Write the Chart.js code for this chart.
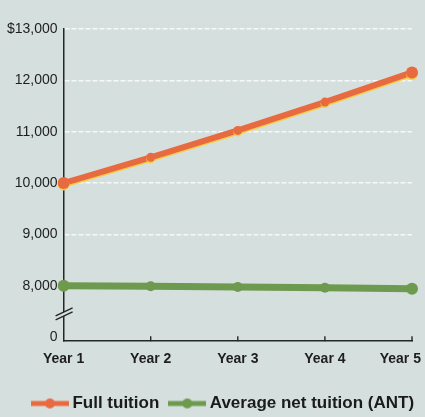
<!DOCTYPE html>
<html>
<head>
<meta charset="utf-8">
<script src="https://cdn.jsdelivr.net/npm/chart.js@4.4.1/dist/chart.umd.min.js"></script>
<style>
  html, body { margin: 0; padding: 0; background: #d5dfde; }
  #wrap { width: 425px; height: 417px; }
</style>
</head>
<body>
<div id="wrap"><canvas id="tuition"></canvas></div>
<script>
const years = ['Year 1', 'Year 2', 'Year 3', 'Year 4', 'Year 5'];
const fullTuition = [10000, 10500, 11025, 11576, 12155];
const netTuition = [8000, 7990, 7975, 7960, 7940];
// 7000 sits just above the axis break and is labelled "0"
const yTickValues = [7000, 8000, 9000, 10000, 11000, 12000, 13000];
const yTickLabels = ['0', '8,000', '9,000', '10,000', '11,000', '12,000', '$13,000'];

const bg = '#d5dfde';
const orange = '#e76a41';
const green = '#6d9a4e';

// little line-with-dot swatch for the legend
const swatch = (color) => {
  const c = document.createElement('canvas');
  c.width = 38; c.height = 14;
  const g = c.getContext('2d');
  g.strokeStyle = color; g.lineWidth = 5;
  g.beginPath(); g.moveTo(0, 7); g.lineTo(38, 7); g.stroke();
  g.fillStyle = color;
  g.beginPath(); g.arc(19, 7, 5, 0, Math.PI * 2); g.fill();
  return c;
};
const swatches = [swatch(orange), swatch(green)];

const extras = {
  id: 'extras',
  beforeDraw(chart) {
    const ctx = chart.ctx;
    ctx.save();
    ctx.fillStyle = bg;
    ctx.fillRect(0, 0, chart.width, chart.height);
    ctx.restore();
  },
  afterLayout(chart) {
    // legend in the original sits a bit right of centre and low down
    const lg = chart.legend;
    lg.left += 12; lg.right += 12;
    lg.top += 3; lg.bottom += 3;
  },
  beforeDatasetDraw(chart, args) {
    if (args.index === 0) {
      chart.ctx.save();
      chart.ctx.shadowColor = '#f3cd48';
      chart.ctx.shadowOffsetY = 1.5;
    }
  },
  afterDatasetDraw(chart, args) {
    if (args.index === 0) chart.ctx.restore();
  },
  afterDraw(chart) {
    const { ctx, scales: { x, y } } = chart;
    const base = y.getPixelForValue(y.min);
    ctx.save();
    ctx.strokeStyle = '#262626';
    ctx.lineWidth = 1.4;
    // upward tick marks on the x axis
    for (let i = 1; i < years.length; i++) {
      const px = x.getPixelForValue(i);
      ctx.beginPath(); ctx.moveTo(px, base); ctx.lineTo(px, base - 5); ctx.stroke();
    }
    // axis break
    const bx = x.left, by = y.getPixelForValue(7450);
    ctx.fillStyle = bg;
    ctx.beginPath();
    ctx.moveTo(bx - 8, by + 2); ctx.lineTo(bx + 9, by - 6);
    ctx.lineTo(bx + 9, by - 2); ctx.lineTo(bx - 8, by + 6);
    ctx.closePath(); ctx.fill();
    ctx.beginPath();
    ctx.moveTo(bx - 8, by + 2); ctx.lineTo(bx + 9, by - 6);
    ctx.moveTo(bx - 8, by + 6); ctx.lineTo(bx + 9, by - 2);
    ctx.stroke();
    ctx.restore();
  }
};

const endBig = (big, small) => (c) => (c.dataIndex === 0 || c.dataIndex === years.length - 1) ? big : small;

new Chart(document.getElementById('tuition'), {
  type: 'line',
  data: {
    labels: years,
    datasets: [
      {
        label: 'Full tuition',
        data: fullTuition,
        borderColor: orange,
        backgroundColor: orange,
        borderWidth: 6,
        pointRadius: endBig(6, 4.5),
        pointBorderWidth: 0,
        tension: 0
      },
      {
        label: 'Average net tuition (ANT)',
        data: netTuition,
        borderColor: green,
        backgroundColor: green,
        borderWidth: 7,
        pointRadius: endBig(6, 5),
        pointBorderWidth: 0,
        tension: 0
      }
    ]
  },
  options: {
    responsive: true,
    maintainAspectRatio: false,
    animation: false,
    layout: { padding: { top: 29, left: 1, right: 0, bottom: -2 } },
    font: { family: '"Liberation Sans", Arial, sans-serif' },
    plugins: {
      tooltip: { enabled: false },
      legend: {
        position: 'bottom',
        labels: {
          usePointStyle: true,
          pointStyleWidth: 28,
          padding: 14,
          color: '#1b1b1b',
          font: { family: '"Liberation Sans", Arial, sans-serif', size: 17, weight: 'bold' },
          generateLabels: (chart) => chart.data.datasets.map((ds, i) => ({
            text: ds.label,
            pointStyle: swatches[i],
            fillStyle: ds.borderColor,
            strokeStyle: ds.borderColor,
            lineWidth: 0,
            hidden: false,
            datasetIndex: i,
            fontColor: '#1b1b1b'
          }))
        }
      }
    },
    scales: {
      x: {
        offset: false,
        afterFit: (s) => { s.paddingRight = 13; },
        grid: { display: false, drawTicks: false },
        border: { color: '#262626', width: 1.5 },
        ticks: {
          maxRotation: 0,
          padding: 10,
          color: '#1e1e1e',
          font: { family: '"Liberation Sans", Arial, sans-serif', size: 14, weight: 'bold' },
          // last label is nudged left in the original
          callback: (v, i) => i === years.length - 1 ? years[i] + '      ' : years[i]
        }
      },
      y: {
        min: 6920,
        max: 13000,
        afterBuildTicks: (s) => { s.ticks = yTickValues.map(v => ({ value: v })); },
        grid: {
          drawTicks: false,
          lineWidth: 1.5,
          color: (c) => (c.tick && c.tick.value >= 9000) ? '#f6f9f9' : 'rgba(0,0,0,0)'
        },
        border: { color: '#262626', width: 1.5, dash: [5, 2] },
        ticks: {
          padding: 6,
          color: '#1e1e1e',
          font: { family: '"Liberation Sans", Arial, sans-serif', size: 14 },
          callback: (v) => yTickLabels[yTickValues.indexOf(v)]
        }
      }
    }
  },
  plugins: [extras]
});
</script>
</body>
</html>
